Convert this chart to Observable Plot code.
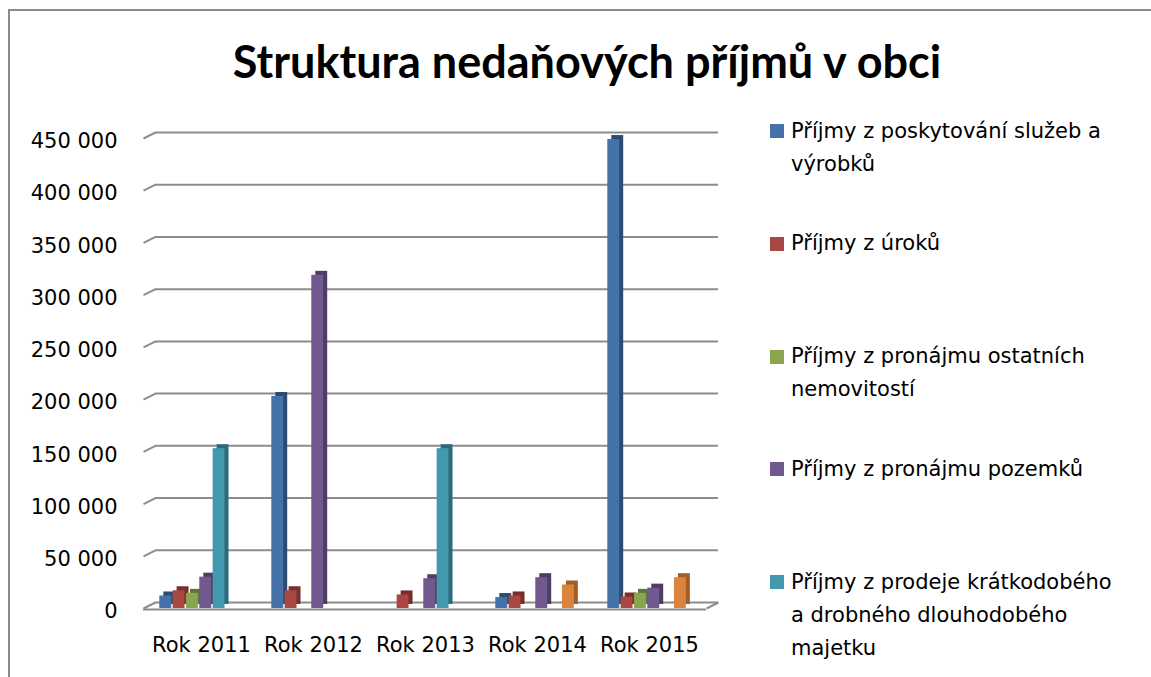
<!DOCTYPE html>
<html>
<head>
<meta charset="utf-8">
<script src="https://cdn.jsdelivr.net/npm/d3@7"></script>
<script src="https://cdn.jsdelivr.net/npm/@observablehq/plot@0.6"></script>
<style>
  html, body { margin: 0; padding: 0; background: #fff; }
  #page { position: relative; width: 1151px; height: 677px; overflow: hidden; background: #fff; }
  #border { position: absolute; left: 8px; top: 9px; right: -4px; bottom: -4px; border-left: 2px solid #8a8a8a; border-top: 2px solid #8a8a8a; }
  #title { position: absolute; left: 200px; width: 774px; top: 36px; text-align: center; font-family: Lato, sans-serif; font-weight: bold; font-size: 45px; line-height: 50px; color: #000; white-space: nowrap; }
  #chart { position: absolute; left: 0; top: 100px; }
  .sw { position: absolute; width: 14px; height: 14px; }
  .lt { position: absolute; width: 325px; font-family: "DejaVu Sans", sans-serif; font-size: 21px; line-height: 33px; color: #000; }
</style>
</head>
<body>
<div id="page">
  <div id="border"></div>
  <div id="title"></div>
  <div id="chart"></div>
  <div id="legend"></div>
</div>
<script>
// ---- data ----
const title = "Struktura nedaňových příjmů v obci";
const years = ["Rok 2011", "Rok 2012", "Rok 2013", "Rok 2014", "Rok 2015"];
const seriesNames = [
  "Příjmy z poskytování služeb a výrobků",
  "Příjmy z úroků",
  "Příjmy z pronájmu ostatních nemovitostí",
  "Příjmy z pronájmu pozemků",
  "Příjmy z prodeje krátkodobého a drobného dlouhodobého majetku",
  "Ostatní nedaňové příjmy"
];
const sluzbyVyrobky   = [12000, 203000, 0, 10500, 449000];
const uroky           = [17000, 17000, 13000, 12000, 11000];
const pronajemNemov   = [14500, 0, 0, 0, 14500];
const pronajemPozemku = [30000, 319000, 28500, 29500, 19500];
const prodejMajetku   = [153000, 0, 153000, 0, 0];
const ostatni         = [0, 0, 0, 22500, 29500];
const yTicks = [0, 50000, 100000, 150000, 200000, 250000, 300000, 350000, 400000, 450000];
const legendCount = 5;

// ---- styles ----
const frontColors = ["#4572A7", "#AA4643", "#89A54E", "#71588F", "#4198AF", "#DB843D"];
const sideColors  = ["#2E4C72", "#772F2D", "#5F7436", "#4E3D64", "#2B6A7B", "#A35E26"];
const gridColor = "#8c8c8c";

const seriesValues = [sluzbyVyrobky, uroky, pronajemNemov, pronajemPozemku, prodejMajetku, ostatni];
const table = seriesValues.flatMap((vals, i) =>
  years.map((year, j) => ({year, series: seriesNames[i], i, value: vals[j]}))
).filter(d => d.value > 0);

// layout
const W = 740, H = 577, mL = 143, mR = 34, mT = 38, mB = 69;
const bw = (W - mL - mR) / years.length;
const step = 13.33, barW = 12.5, depthX = 12, depthY = 6, barDepth = 4;
const insetL = i => bw / 2 - 42 + i * step;
const insetR = i => bw - insetL(i) - barW;

const fmt = d3.formatLocale({thousands: "\u00a0", grouping: [3], decimal: ",", currency: ["", ""]}).format(",");

const stub = {draw(ctx) { ctx.moveTo(0, 0); ctx.lineTo(depthX, -depthY); }};

const barMarks = seriesNames.flatMap((s, i) => {
  const rows = table.filter(d => d.i === i);
  return [
    Plot.barY(rows, {x: "year", y: "value", fill: sideColors[i], insetLeft: insetL(i), insetRight: insetR(i), dx: barDepth, dy: -barDepth}),
    Plot.barY(rows, {x: "year", y: "value", fill: frontColors[i], insetLeft: insetL(i), insetRight: insetR(i)})
  ];
});

const chart = Plot.plot({
  width: W, height: H,
  marginLeft: mL, marginRight: mR, marginTop: mT, marginBottom: mB,
  style: {fontFamily: "'DejaVu Sans', sans-serif", fontSize: "21px", background: "transparent", color: "#000"},
  x: {domain: years, padding: 0},
  y: {domain: [0, 450000]},
  marks: [
    Plot.ruleY(yTicks, {dx: depthX, dy: -depthY, stroke: gridColor, strokeWidth: 2}),
    Plot.dot(yTicks, {y: d => d, frameAnchor: "left", symbol: stub, r: 2, fill: "none", stroke: gridColor, strokeWidth: 2}),
    Plot.dot([0], {y: d => d, frameAnchor: "right", symbol: stub, r: 2, fill: "none", stroke: gridColor, strokeWidth: 2}),
    ...barMarks,
    Plot.ruleY([0], {stroke: gridColor, strokeWidth: 2, dy: 1}),
    Plot.axisY({ticks: yTicks, tickSize: 0, tickFormat: () => "", line: true, stroke: gridColor, strokeWidth: 2, label: null}),
    Plot.axisY({ticks: yTicks, tickSize: 0, tickPadding: 26, tickFormat: fmt, fill: "#000", fontSize: 21, dy: 3, label: null}),
    Plot.axisX({tickSize: 0, tickPadding: 29, fill: "#000", fontSize: 21, label: null})
  ]
});
document.getElementById("chart").appendChild(chart);

document.getElementById("title").textContent = title;

const legend = document.getElementById("legend");
for (let i = 0; i < legendCount; i++) {
  const top = 114.5 + i * 112.8;
  const sw = document.createElement("div");
  sw.className = "sw";
  sw.style.left = "770px";
  sw.style.top = (top + 9.5) + "px";
  sw.style.background = frontColors[i];
  legend.appendChild(sw);
  const t = document.createElement("div");
  t.className = "lt";
  t.style.left = "791px";
  t.style.top = top + "px";
  t.textContent = seriesNames[i];
  legend.appendChild(t);
}
</script>
</body>
</html>
